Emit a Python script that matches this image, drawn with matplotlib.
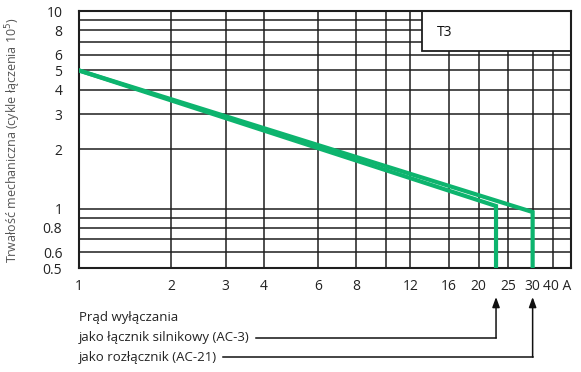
import matplotlib
matplotlib.use("Agg")
import matplotlib.pyplot as plt
import matplotlib.transforms as mtransforms
from matplotlib.patches import Rectangle
from matplotlib import font_manager

# --- data -------------------------------------------------------------
x_ticks = [1, 2, 3, 4, 6, 8, 12, 16, 20, 25, 30, 40]
x_tick_labels = ["1", "2", "3", "4", "6", "8", "12", "16", "20", "25", "30", "40 A"]
x_grid = [2, 3, 4, 6, 8, 10, 12, 16, 20, 25, 30, 35]

y_ticks = [0.5, 0.6, 0.8, 1, 2, 3, 4, 5, 6, 8, 10]
y_tick_labels = ["0.5", "0.6", "0.8", "1", "2", "3", "4", "5", "6", "8", "10"]
y_grid = [0.6, 0.7, 0.8, 0.9, 1, 2, 3, 4, 5, 6, 7, 8, 9]

# mechanical life curves (current in A, cycles x 10^5)
ac3_current = [1, 22.8, 22.8]
ac3_life = [5.0, 1.03, 0.5]
ac21_current = [1, 30, 30]
ac21_life = [5.0, 0.96, 0.5]

# ----------------------------------------------------------------------
names = {f.name for f in font_manager.fontManager.ttflist}
family = "Liberation Sans Narrow" if "Liberation Sans Narrow" in names else "Open Sans"
plt.rcParams["font.family"] = [family, "DejaVu Sans"]

GREEN = "#0db46e"
GRID = "#1e1e1e"

fig = plt.figure(figsize=(5.81, 3.72), dpi=100)
W, H = 581, 372
ax = fig.add_axes([79 / W, 1 - 268 / H, (571 - 79) / W, (268 - 11) / H])
ax.set_xscale("log")
ax.set_yscale("log")
ax.set_xlim(1, 40)
ax.set_ylim(0.5, 10)

for gx in x_grid:
    ax.axvline(gx, color=GRID, lw=1.1, zorder=1)
for gy in y_grid:
    ax.axhline(gy, color=GRID, lw=1.1, zorder=1)

ax.set_xticks(x_ticks)
ax.set_xticklabels(x_tick_labels)
ax.set_yticks(y_ticks)
ax.set_yticklabels(y_tick_labels)
ax.minorticks_off()
ax.tick_params(axis="both", length=0, labelsize=10, colors="#222222")
ax.tick_params(axis="x", pad=8)
ax.tick_params(axis="y", pad=12)
ax.get_xticklabels()[-1].set_horizontalalignment("right")
ax.get_xticklabels()[-1].set_x(40)

for s in ax.spines.values():
    s.set_color(GRID)
    s.set_linewidth(1.5)

ax.plot(ac3_current, ac3_life, color=GREEN, lw=3, solid_joinstyle="miter", zorder=3)
ax.plot(ac21_current, ac21_life, color=GREEN, lw=3, solid_joinstyle="miter", zorder=3)

# type label box
ax.add_patch(Rectangle((0.697, 0.844), 0.303, 0.156, transform=ax.transAxes,
                       facecolor="white", edgecolor=GRID, lw=1.3, zorder=2))
ax.text(0.728, 0.918, "T3", transform=ax.transAxes, fontsize=10,
        color="#111111", va="center", ha="left", zorder=4)

fig.text(13 / W, 1 - 140 / H, "Trwałość mechaniczna (cykle łączenia 10$^5$)",
         rotation=90, fontsize=9, color="#555555", ha="center", va="center")

# breaking current legend with arrows
t0 = fig.text(79 / W, 1 - 317 / H, "Prąd wyłączania", fontsize=9.5,
              color="#222222", va="center", ha="left")
t1 = fig.text(79 / W, 1 - 338 / H, "jako łącznik silnikowy (AC-3)", fontsize=9.5,
              color="#222222", va="center", ha="left")
t2 = fig.text(79 / W, 1 - 357 / H, "jako rozłącznik (AC-21)", fontsize=9.5,
              color="#222222", va="center", ha="left")

fig.canvas.draw()
r = fig.canvas.get_renderer()
blend = mtransforms.blended_transform_factory(ax.transData, fig.transFigure)
inv = ax.transData.inverted()
tip_y = 1 - 297 / H
for txt, xend in ((t1, ac3_current[-1]), (t2, ac21_current[-1])):
    bb = txt.get_window_extent(renderer=r)
    ly = 1 - (H - (bb.y0 + bb.y1) / 2) / H
    xstart = inv.transform((bb.x1 + 6, 0))[0]
    ax.plot([xstart, xend], [ly, ly], transform=blend, color="#111111",
            lw=1.1, clip_on=False)
    ax.annotate("", xy=(xend, tip_y), xytext=(xend, ly), xycoords=blend,
                textcoords=blend,
                arrowprops=dict(arrowstyle="-|>,head_length=0.6,head_width=0.22",
                                color="#111111", lw=1.1, shrinkA=0, shrinkB=0))

fig.savefig("out.png", dpi=100)
